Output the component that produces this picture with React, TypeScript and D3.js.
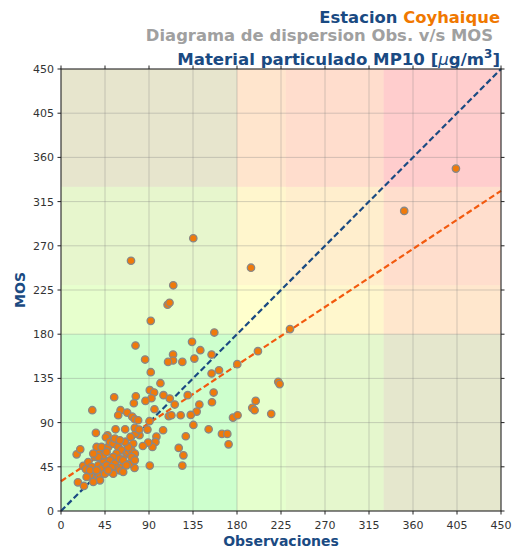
import React from "react";
import * as d3 from "d3";

const obsX: number[] = [
  109, 111, 91.8, 156.8, 76.2, 134, 142.5, 114.6, 114.6, 109.5, 124.1, 136.4, 154, 86, 91.8, 161.6, 154, 180.3, 201.4,
  101.7, 90.8, 95.2, 92.5, 86.4, 104.8, 111.2, 116.3, 129.6, 156.1, 154.4, 141.5, 138.8, 132.7, 122.4, 110.2, 112.9,
  95.6, 76.5, 74.5, 54.4, 32, 60.9, 58.5, 67.7, 72.8, 75.5, 78.9, 90.5, 88.4, 104.4, 135.4, 151, 164.6, 170.1, 171.4,
  175.9, 180.6, 127.6, 120.4, 125.2, 124.1, 90.8, 97.6, 96.6, 93.5, 89.1, 83.7, 80.3, 76.2, 75.5, 79.9, 71.1, 73.8,
  75.2, 61.9, 51.7, 35.7, 55.8, 65.6, 47.6, 45.9, 16, 19.7, 17.3, 23.5, 22.8, 25.5,
  27.9, 31.3, 34.7, 36.4, 39.8, 38.1, 41.5, 43.2, 34.7, 39.8, 36.4, 41.5, 48.3, 50, 53.4, 55.1, 58.5, 61.9, 56.8, 53.4,
  50, 46.6, 55.1, 60.2, 63.6, 67, 68.7, 72.1, 75.5, 73.8, 70.4, 67, 72.1, 75.5, 68.7, 65.3, 60.2, 44.9, 39.8, 29.6, 33,
  26.2, 29.6, 36.4, 43.2, 46.6, 38.1, 33, 56.8, 51.7, 60.2, 63.6, 53.4, 48.3,
  234.2, 222.2, 223.6, 199.1, 195.6, 198, 215, 194.3, 351, 403.9, 71.6, 135.3, 114.8
];
const mosY: number[] = [
  210, 212, 193.6, 181.7, 168.5, 172.2, 163.7, 159.3, 153.2, 151.8, 151.8, 155.2, 159.3, 154.2, 141.3, 143.3, 140, 149.5, 162.7,
  130.1, 123, 120.6, 114.8, 112.1, 117.9, 114.5, 108.4, 117.9, 120.6, 110.7, 108.4, 101.2, 97.8, 97.5, 96.5, 97.5,
  103.6, 116.8, 109.7, 115.8, 102.6, 102.6, 97.5, 100.2, 96.1, 93.4, 92.4, 91.4, 82.9, 82.2, 87.6, 83.2, 78.5, 78.5, 67.9,
  95.1, 97.5, 76.1, 64.2, 56.7, 46.2, 46.2, 75.7, 70.3, 65.2, 69.6, 66.2, 77.1, 78.8, 84.6, 82.9, 75.4, 68.6,
  43.8, 44.8, 39.7, 79.5, 83.2, 83.2, 77.1, 75.1, 57.7, 62.8, 29.2, 25.5, 45.9, 42.5,
  49.9, 44.8, 38, 32.9, 36.3, 46.5, 43.1, 51.6, 55, 60.1, 65.2, 65.2, 65.2, 70.3, 68.6, 73.7, 65.2, 61.8, 58.4, 55,
  51.6, 46.5, 48.2, 53.3, 51.6, 58.4, 60.1, 61.8, 58.4, 53.3, 48.2, 46.5, 55, 51.6, 65.2, 70.3, 72, 38, 31.2, 36.3, 29.6,
  34.6, 41.4, 41.4, 56.7, 60.1, 55, 58.4, 43.1, 44.8, 41.4, 39.7, 38, 41.4,
  185.2, 131.5, 129.2, 112.1, 105, 102.6, 98.9, 247.7, 305.5, 348.6, 254.8, 277.7, 229.8
];

const ticks: number[] = [0, 45, 90, 135, 180, 225, 270, 315, 360, 405, 450];
const bandEdges: number[] = [0, 180, 230, 330, 450];
const bandColors: string[] = ["#00ff00", "#ffff00", "#ffa500", "#ff0000"];
const fitIntercept = 30.3;
const fitSlope = 0.657;

const W = 514, H = 550;
const L = 61, R = 501, T = 69, B = 511;
const DARKBLUE = "#1a4a82";
const FONT = "DejaVu Sans, sans-serif";

export default function App() {
  const x = d3.scaleLinear().domain([0, 450]).range([L, R]);
  const y = d3.scaleLinear().domain([0, 450]).range([B, T]);
  const line = d3.line<[number, number]>().x(d => x(d[0])).y(d => y(d[1]));
  const pts = obsX.map((v, i) => [v, mosY[i]] as [number, number]);
  return (
    <svg width={W} height={H} style={{ position: "absolute", left: 0, top: 0 }} fontFamily={FONT}>
      <rect width={W} height={H} fill="#fff" />
      {bandColors.map((c, i) => (
        <rect key={"v" + i} x={x(bandEdges[i])} y={T} width={x(bandEdges[i + 1]) - x(bandEdges[i])} height={B - T} fill={c} fillOpacity={0.1} />
      ))}
      {bandColors.map((c, i) => (
        <rect key={"h" + i} x={L} y={y(bandEdges[i + 1])} width={R - L} height={y(bandEdges[i]) - y(bandEdges[i + 1])} fill={c} fillOpacity={0.1} />
      ))}
      {ticks.map(t => (
        <g key={"g" + t}>
          <line x1={x(t)} x2={x(t)} y1={T} y2={B} stroke="#808080" strokeOpacity={0.35} strokeWidth={1} />
          <line x1={L} x2={R} y1={y(t)} y2={y(t)} stroke="#808080" strokeOpacity={0.35} strokeWidth={1} />
        </g>
      ))}
      <path d={line([[0, 0], [450, 450]]) || ""} stroke="#1a4a82" strokeWidth={2.2} strokeDasharray="6,3" fill="none" />
      <path d={line([[0, fitIntercept], [450, fitIntercept + fitSlope * 450]]) || ""} stroke="#f25a0f" strokeWidth={2.2} strokeDasharray="6,3" fill="none" />
      {pts.map((p, i) => (
        <circle key={"p" + i} cx={x(p[0])} cy={y(p[1])} r={3.7} fill="#f07a0a" stroke="#888" strokeWidth={1.3} />
      ))}
      <rect x={L} y={T} width={R - L} height={B - T} fill="none" stroke="#222" strokeWidth={1} />
      {ticks.map(t => (
        <g key={"t" + t} fontSize={11} fill="#333">
          <line x1={x(t)} x2={x(t)} y1={B} y2={B + 3.5} stroke="#222" />
          <line x1={x(t)} x2={x(t)} y1={T} y2={T - 3.5} stroke="#222" />
          <line x1={L} x2={L - 3.5} y1={y(t)} y2={y(t)} stroke="#222" />
          <line x1={R} x2={R + 3.5} y1={y(t)} y2={y(t)} stroke="#222" />
          <text x={x(t)} y={B + 18} textAnchor="middle">{t}</text>
          <text x={L - 7} y={y(t) + 4} textAnchor="end">{t}</text>
        </g>
      ))}
      <text x={(L + R) / 2} y={546} textAnchor="middle" fontWeight="bold" fontSize={14} fill={DARKBLUE}>Observaciones</text>
      <text transform={`translate(25,${(T + B) / 2}) rotate(-90)`} textAnchor="middle" fontWeight="bold" fontSize={14} fill={DARKBLUE}>MOS</text>
      <text x={500} y={23} textAnchor="end" fontWeight="bold" fontSize={16.4}>
        <tspan fill={DARKBLUE}>Estacion </tspan><tspan fill="#f07800">Coyhaique</tspan>
      </text>
      <text x={493} y={41} textAnchor="end" fontWeight="bold" fontSize={16.4} fill="#a0a0a0">Diagrama de dispersion Obs. v/s MOS</text>
      <text x={500} y={65} textAnchor="end" fontWeight="bold" fontSize={16.6} fill={DARKBLUE}>
        <tspan>Material particulado MP10 [</tspan><tspan fontStyle="italic" fontWeight="normal">μ</tspan><tspan>g/m</tspan><tspan dy={-7} fontSize={12}>3</tspan><tspan dy={7}>]</tspan>
      </text>
    </svg>
  );
}
